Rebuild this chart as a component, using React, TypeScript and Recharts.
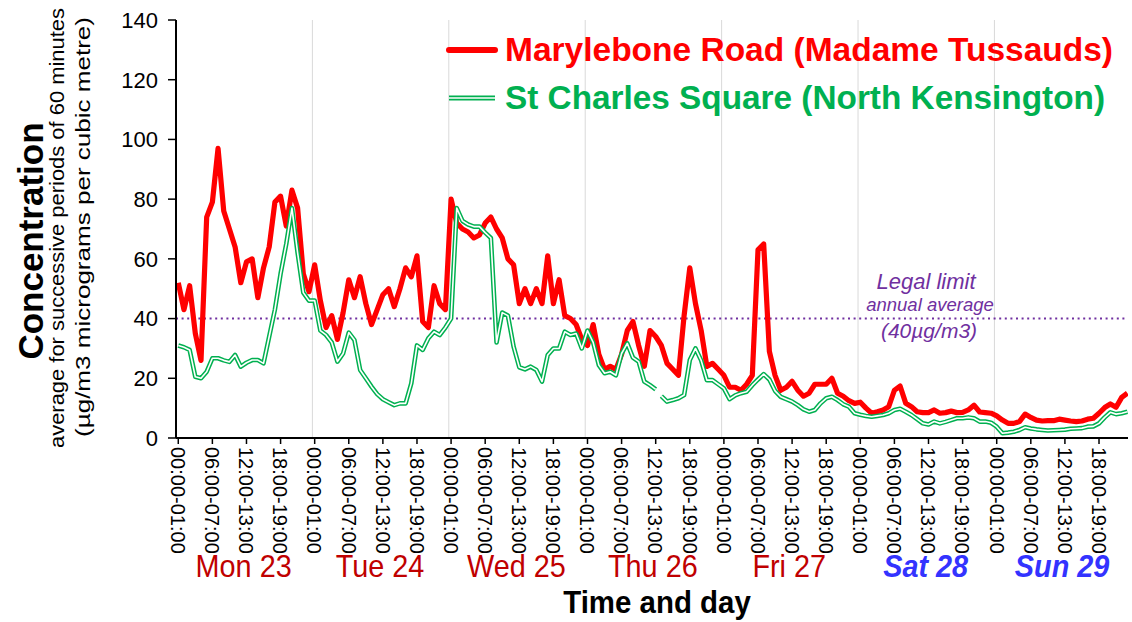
import { LineChart, Line, XAxis, YAxis, ReferenceLine } from "recharts";

// hourly means in µg/m3, Mon 23 00:00-01:00 .. Sun 29 23:00-24:00
const maryleboneRoad = [
  52, 43, 51, 35, 26, 74, 79, 97, 76, 70, 64, 52, 59, 60, 47, 57, 64, 79, 81, 71, 83, 77, 55, 49,
  58, 46, 37, 41, 33, 42, 53, 47, 54, 45, 38, 43, 48, 50, 44, 50, 57, 54, 61, 39, 37, 51, 45, 43,
  80, 72, 70, 69, 67, 68, 72, 74, 70, 67, 60, 58, 45, 50, 45, 50, 45, 61, 45, 53, 41, 40, 38, 33,
  31, 38, 28, 23, 24, 23, 28, 36, 39, 31, 24, 36, 34, 31, 25, 23, 21, 41, 57, 45, 36, 24, 25, 23,
  21, 17, 17, 16, 18, 21, 63, 65, 29, 21, 16, 17, 19, 16, 14, 15, 18, 18, 18, 20, 15, 14, 12.5, 11.6,
  12, 10, 8.3, 8.8, 9.4, 10.5, 16, 17.4, 11.6, 10.5, 8.8, 8.5, 8.5, 9.4, 8.3, 8.5, 9, 8.5, 8.6, 9.4, 11, 8.7, 8.5, 8.3,
  7.4, 6, 4.9, 4.9, 5.5, 8, 6.9, 6, 5.7, 5.8, 5.8, 6.3, 6, 5.7, 5.5, 5.7, 6.3, 6.6, 8.3, 10.2, 11.4, 10.3, 13.6, 15,
];

const stCharlesSquare = [
  31, 30.4, 29.5, 20.5, 20, 22.2, 26.7, 26.7, 26, 25.5, 27.8, 23.9, 25.2, 26.1, 26.1, 25, 34, 43, 55, 65, 77, 62, 48.7, 46,
  46, 36, 34.5, 32, 25.6, 28.3, 35.3, 32.8, 22.8, 20, 17.2, 14.7, 13, 12, 11, 11.6, 11.6, 18.3, 31, 29.5, 33.4, 35.6, 34.5, 37,
  40, 77, 72.7, 71.5, 70.8, 70.8, 68.8, 67, 32, 42, 41, 30.6, 23.7, 23, 23.9, 22.8, 18.9, 27.8, 30, 30, 35.6, 34.5, 35, 30,
  36, 32, 24.4, 21.7, 22.2, 21, 28.3, 31.7, 26.9, 25.6, 18.9, 17.7, 16.3, 14, 12.2, 12.7, 13.3, 14.4, 26.1, 30, 26, 19.4, 19.4, 18,
  16.6, 13, 14.3, 15, 15.5, 17.7, 19.6, 21.4, 19.6, 15.8, 13.8, 13, 12.2, 11, 9.6, 8.8, 9.4, 11.6, 13.3, 13.8, 12.7, 11.3, 10.5, 8.3,
  7.8, 7.4, 7.1, 7.4, 7.7, 8.3, 9.4, 9.8, 8.8, 7.7, 6.3, 4.9, 4.5, 5.5, 4.9, 5.4, 6, 6.6, 6.6, 6.9, 6.6, 5.5, 5.5, 5.1,
  3.8, 1.6, 1.8, 2.1, 2.7, 3.6, 3.2, 2.9, 2.7, 2.5, 2.6, 2.7, 2.8, 3.1, 3.2, 3.3, 3.8, 3.9, 4.9, 6.9, 8.6, 8, 8.3, 8.8,
];
// the St Charles trace is broken between these two hours (Thu ~12:00)
const stCharlesBreakAfter = 84;

const hourLabels = ["00:00-01:00", "06:00-07:00", "12:00-13:00", "18:00-19:00"];
const days = ["Mon 23", "Tue 24", "Wed 25", "Thu 26", "Fri 27", "Sat 28", "Sun 29"];
const weekendDays = ["Sat 28", "Sun 29"];
const yTicks = [0, 20, 40, 60, 80, 100, 120, 140];
const legalLimit = 40;

const data = maryleboneRoad.map((v, i) => ({
  i,
  mary: v,
  stcA: i <= stCharlesBreakAfter ? stCharlesSquare[i] : null,
  stcB: i > stCharlesBreakAfter ? stCharlesSquare[i] : null,
}));
const tickIdx = days.flatMap((_, d) => hourLabels.map((_, k) => d * 24 + k * 6));

// plot box (matches chart margins below)
const PL = 176;
const PR = 1128;
const DOMAIN: [number, number] = [-0.4, 167.1];
const px = (i: number) => PL + ((i - DOMAIN[0]) * (PR - PL)) / (DOMAIN[1] - DOMAIN[0]);

const FONT = "'Liberation Sans', Arial, sans-serif";

function HourTick(props: any) {
  const { x, y, payload } = props;
  const label = hourLabels[(payload.value / 6) % 4];
  return (
    <text
      transform={`translate(${x},${y + 1}) rotate(90)`}
      textAnchor="start"
      dy="0.36em"
      fontSize={20}
      fontFamily={FONT}
      fill="#000"
    >
      {label}
    </text>
  );
}

const lineProps = { dot: false, isAnimationActive: false, strokeLinejoin: "round" as const, connectNulls: false };

export default function App() {
  return (
    <div style={{ position: "relative", width: 1132, height: 622, background: "#fff" }}>
      <style>{"body{margin:0}"}</style>
      <LineChart width={1132} height={622} data={data} margin={{ top: 20, right: 4, bottom: 154, left: 76 }}>
        <XAxis
          type="number"
          dataKey="i"
          domain={DOMAIN}
          allowDataOverflow
          ticks={tickIdx}
          interval={0}
          height={30}
          tickSize={6}
          tickMargin={2}
          tick={HourTick}
          tickLine={{ stroke: "#000", strokeWidth: 1.5 }}
          axisLine={{ stroke: "#000", strokeWidth: 2 }}
        />
        <YAxis
          domain={[0, 140]}
          ticks={yTicks}
          width={100}
          tickSize={8}
          tickMargin={10}
          tick={{ fontSize: 22, fill: "#000", fontFamily: FONT }}
          tickLine={{ stroke: "#000", strokeWidth: 1.5 }}
          axisLine={{ stroke: "#000", strokeWidth: 2 }}
        />
        {days.slice(1).map((_, d) => (
          <ReferenceLine key={d} x={(d + 1) * 24 - 0.4} stroke="#d9d9d9" strokeWidth={1} />
        ))}
        <ReferenceLine y={legalLimit} stroke="#7030A0" strokeWidth={2} strokeDasharray="2 3.6" />
        <Line dataKey="mary" stroke="#FF0000" strokeWidth={5.2} {...lineProps} />
        <Line dataKey="stcA" stroke="#00B050" strokeWidth={4.6} {...lineProps} />
        <Line dataKey="stcA" stroke="#FFFFFF" strokeWidth={1.6} {...lineProps} />
        <Line dataKey="stcB" stroke="#00B050" strokeWidth={4.6} {...lineProps} />
        <Line dataKey="stcB" stroke="#FFFFFF" strokeWidth={1.6} {...lineProps} />
      </LineChart>

      <svg
        width={1132}
        height={622}
        style={{ position: "absolute", left: 0, top: 0, pointerEvents: "none" }}
        fontFamily={FONT}
      >
        {/* legend */}
        <line x1={449} x2={495} y1={50} y2={50} stroke="#FF0000" strokeWidth={6} strokeLinecap="round" />
        <text x={505} y={61} fontSize={34} fontWeight="bold" fill="#FF0000" textLength={608} lengthAdjust="spacingAndGlyphs">
          Marylebone Road (Madame Tussauds)
        </text>
        <line x1={449} x2={495} y1={98} y2={98} stroke="#00B050" strokeWidth={5} />
        <line x1={449} x2={495} y1={98} y2={98} stroke="#FFFFFF" strokeWidth={1.6} />
        <text x={505} y={109} fontSize={34} fontWeight="bold" fill="#00B050" textLength={600} lengthAdjust="spacingAndGlyphs">
          St Charles Square (North Kensington)
        </text>

        {/* y axis titles */}
        <text transform="translate(43,241) rotate(-90)" textAnchor="middle" fontSize={35} fontWeight="bold" fill="#000" textLength={237} lengthAdjust="spacingAndGlyphs">
          Concentration
        </text>
        <text transform="translate(64,228) rotate(-90)" textAnchor="middle" fontSize={21} fill="#000" textLength={440} lengthAdjust="spacingAndGlyphs">
          average for successive periods of 60 minutes
        </text>
        <text transform="translate(90,227) rotate(-90)" textAnchor="middle" fontSize={21} fill="#000" textLength={420} lengthAdjust="spacingAndGlyphs">
          (µg/m3 micrograms per cubic metre)
        </text>

        {/* legal limit note */}
        <g fill="#7030A0" fontStyle="italic" textAnchor="middle">
          <text x={926} y={289} fontSize={22}>Legal limit</text>
          <text x={930} y={311} fontSize={18.5}>annual average</text>
          <text x={929} y={338} fontSize={21}>(40µg/m3)</text>
        </g>

        {/* day labels */}
        {days.map((d, k) => {
          const we = weekendDays.includes(d);
          return (
            <text
              key={d}
              transform={`translate(${px(k * 24 + 11.5)},577) scale(0.93,1)`}
              textAnchor="middle"
              fontSize={31}
              fill={we ? "#3333FF" : "#C00000"}
              fontWeight={we ? "bold" : "normal"}
              fontStyle={we ? "italic" : "normal"}
            >
              {d}
            </text>
          );
        })}

        <text transform="translate(657,613) scale(0.95,1)" textAnchor="middle" fontSize={31} fontWeight="bold" fill="#000">
          Time and day
        </text>
      </svg>
    </div>
  );
}
